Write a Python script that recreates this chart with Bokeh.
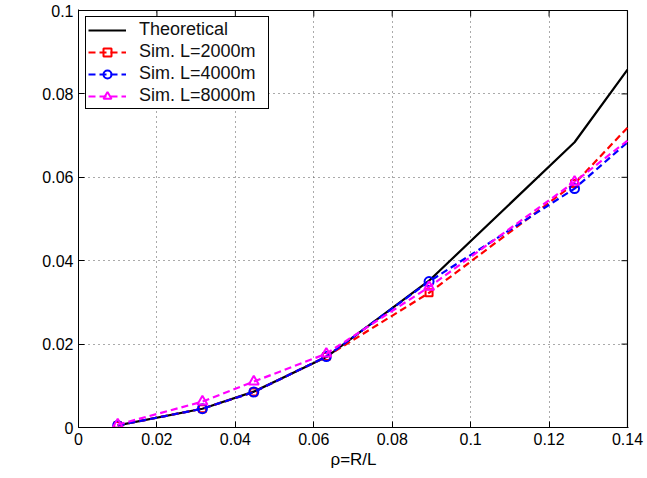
import math
from bokeh.plotting import figure
from bokeh.models import Range1d, Label, Legend, LegendItem, FixedTicker
from bokeh.embed import file_html
from bokeh.resources import INLINE

# ---- data ----
rho = [0.01, 0.0316, 0.0447, 0.0632, 0.0894, 0.1265, 0.14]
theory = [0.0005, 0.0045, 0.0086, 0.0169, 0.0352, 0.0684, 0.0858]
sim_2000 = [0.0005, 0.0045, 0.0085, 0.0170, 0.0323, 0.0585, 0.0719]
sim_4000 = [0.0005, 0.0045, 0.0085, 0.0170, 0.0350, 0.0573, 0.0684]
sim_8000 = [0.0007, 0.0062, 0.0110, 0.0177, 0.0337, 0.0589, 0.0688]
n_markers = 6

x_ticks = [0, 0.02, 0.04, 0.06, 0.08, 0.1, 0.12, 0.14]
x_tick_labels = ["0", "0.02", "0.04", "0.06", "0.08", "0.1", "0.12", "0.14"]
y_ticks = [0, 0.02, 0.04, 0.06, 0.08, 0.1]
y_tick_labels = ["0", "0.02", "0.04", "0.06", "0.08", "0.1"]
x_limits = (0, 0.14)
y_limits = (0, 0.1)

FONT = "Liberation Sans"
FRAME_W, FRAME_H = 549, 417
TICK_PX = 6

x0, x1 = x_limits
y0, y1 = y_limits
# one extra pixel of frame beyond the limits so the box edges are not clipped away
x_pad = (x1 - x0) / FRAME_W
y_pad = (y1 - y0) / FRAME_H

p = figure(width=647, height=478, output_backend="svg", toolbar_location=None,
           x_range=Range1d(x0, x1 + x_pad), y_range=Range1d(y0, y1 + y_pad),
           min_border_left=78, min_border_top=9, min_border_right=19, min_border_bottom=51)
p.outline_line_color = None

for ax, ticks, labels in ((p.xaxis[0], x_ticks, x_tick_labels), (p.yaxis[0], y_ticks, y_tick_labels)):
    ax.ticker = FixedTicker(ticks=ticks)
    ax.major_label_overrides = {t: l for t, l in zip(ticks, labels)}
    ax.major_tick_in = TICK_PX
    ax.major_tick_out = 0
    ax.minor_tick_line_color = None
    ax.axis_line_color = "black"
    ax.major_tick_line_color = "black"
    ax.major_label_text_font = FONT
    ax.major_label_text_font_size = "16px"
    ax.major_label_text_color = "black"
    ax.major_label_standoff = 5

p.xaxis[0].axis_label = "ρ=R/L"
p.xaxis[0].axis_label_text_font = FONT
p.xaxis[0].axis_label_text_font_size = "17px"
p.xaxis[0].axis_label_text_font_style = "normal"
p.xaxis[0].axis_label_text_color = "black"
p.xaxis[0].axis_label_standoff = 2

for g in (p.xgrid[0], p.ygrid[0]):
    g.grid_line_color = "#555555"
    g.grid_line_dash = "1 4"
    g.grid_line_width = 1
p.xgrid[0].ticker = FixedTicker(ticks=x_ticks)
p.ygrid[0].ticker = FixedTicker(ticks=y_ticks)

# box: right and top edges of the axes frame, plus mirrored inward ticks
p.line([x1, x1], [y0, y1], line_color="black", line_width=1.2)
p.line([x0, x1], [y1, y1], line_color="black", line_width=1.2)
dx = TICK_PX * (x1 - x0) / FRAME_W
dy = TICK_PX * (y1 - y0) / FRAME_H
p.segment(x0=[x1] * len(y_ticks), y0=y_ticks, x1=[x1 - dx] * len(y_ticks), y1=y_ticks,
          line_color="black", line_width=1)
p.segment(x0=x_ticks, y0=[y1] * len(x_ticks), x1=x_ticks, y1=[y1 - dy] * len(x_ticks),
          line_color="black", line_width=1)

l0 = p.line(rho, theory, line_color="black", line_width=2.2)
dash = "7 4"
l1 = p.line(rho, sim_2000, line_color="#ff0000", line_width=2.2, line_dash=dash)
s1 = p.scatter(rho[:n_markers], sim_2000[:n_markers], marker="square", size=7,
               line_color="#ff0000", fill_color=None, line_width=2)
l2 = p.line(rho, sim_4000, line_color="#0000ff", line_width=2.2, line_dash=dash)
s2 = p.scatter(rho[:n_markers], sim_4000[:n_markers], marker="circle", size=9,
               line_color="#0000ff", fill_color=None, line_width=2)
l3 = p.line(rho, sim_8000, line_color="#ff00ff", line_width=2.2, line_dash=dash)
s3 = p.scatter(rho[:n_markers], sim_8000[:n_markers], marker="triangle", size=10,
               line_color="#ff00ff", fill_color=None, line_width=2)

legend = Legend(items=[
    LegendItem(label="Theoretical", renderers=[l0]),
    LegendItem(label="Sim. L=2000m", renderers=[l1, s1]),
    LegendItem(label="Sim. L=4000m", renderers=[l2, s2]),
    LegendItem(label="Sim. L=8000m", renderers=[l3, s3]),
], location="top_left")
legend.border_line_color = "black"
legend.border_line_width = 1
legend.border_line_alpha = 1
legend.label_text_font = FONT
legend.label_text_font_size = "18px"
legend.label_text_color = "#111111"
legend.glyph_width = 38
legend.glyph_height = 20
legend.label_height = 20
legend.label_width = 127
legend.spacing = 1
legend.padding = 2
legend.margin = 7
legend.label_standoff = 13
legend.background_fill_color = "white"
legend.background_fill_alpha = 1
p.add_layout(legend)

# y label: pi with subscript s
p.add_layout(Label(x=-54, y=0.0393, x_units="screen", y_units="data", text="π",
                   angle=math.pi / 2, text_align="center", text_baseline="middle",
                   text_font=FONT, text_font_size="19px", text_color="black"))
p.add_layout(Label(x=-48, y=0.0428, x_units="screen", y_units="data", text="s",
                   angle=math.pi / 2, text_align="center", text_baseline="middle",
                   text_font=FONT, text_font_size="13px", text_color="black"))

open("out.html", "w").write(file_html(p, INLINE))
